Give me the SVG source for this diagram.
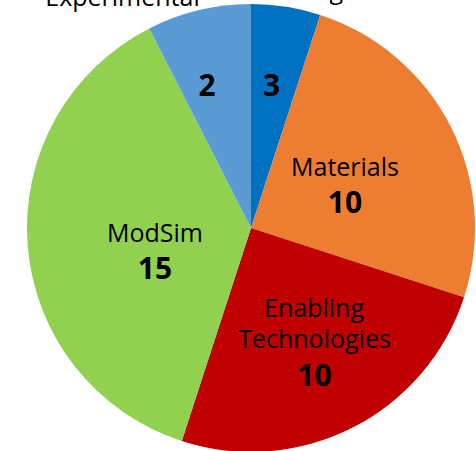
<svg xmlns="http://www.w3.org/2000/svg" width="476" height="451" viewBox="0 0 476 451">
  <style>
    .lbl { font-family: "Open Sans", "Noto Sans", "Liberation Sans", sans-serif; font-size: 25px; fill: #000; text-anchor: middle; }
    .num { font-family: "Open Sans", "Noto Sans", "Liberation Sans", sans-serif; font-size: 30px; font-weight: bold; fill: #000; text-anchor: middle; }
  </style>
  <rect width="476" height="451" fill="#ffffff"/>
  <g id="connectors"/>
  <g id="slice-3">
    <path d="M251,228 L251,4 A224,224 0 0 1 320.22,14.96 Z" fill="#0070C0"/>
    <text class="num" x="271.5" y="96">3</text>
  </g>
  <g id="slice-materials">
    <path d="M251,228 L320.22,14.96 A224,224 0 0 1 464.04,297.22 Z" fill="#ED7D31"/>
    <text class="lbl" x="345" y="176">Materials</text>
    <text class="num" x="345" y="213">10</text>
  </g>
  <g id="slice-enabling">
    <path d="M251,228 L464.04,297.22 A224,224 0 0 1 181.78,441.04 Z" fill="#C00000"/>
    <text class="lbl" x="314" y="316.5">Enabling</text>
    <text class="lbl" x="314.5" y="348">Technologies</text>
    <text class="num" x="314.5" y="386">10</text>
  </g>
  <g id="slice-modsim">
    <path d="M251,228 L181.78,441.04 A224,224 0 0 1 149.31,28.41 Z" fill="#92D050"/>
    <text class="lbl" x="155" y="241.5">ModSim</text>
    <text class="num" x="155" y="279">15</text>
  </g>
  <g id="slice-experimental">
    <path d="M251,228 L149.31,28.41 A224,224 0 0 1 251,4 Z" fill="#5B9BD5"/>
    <text class="num" x="207" y="96">2</text>
  </g>
  <g id="outer-labels">
    <text class="lbl" x="122.5" y="5.5">Experimental</text>
    <text class="lbl" x="343" y="-1.5" style="text-anchor:end">Testing</text>
  </g>
</svg>
